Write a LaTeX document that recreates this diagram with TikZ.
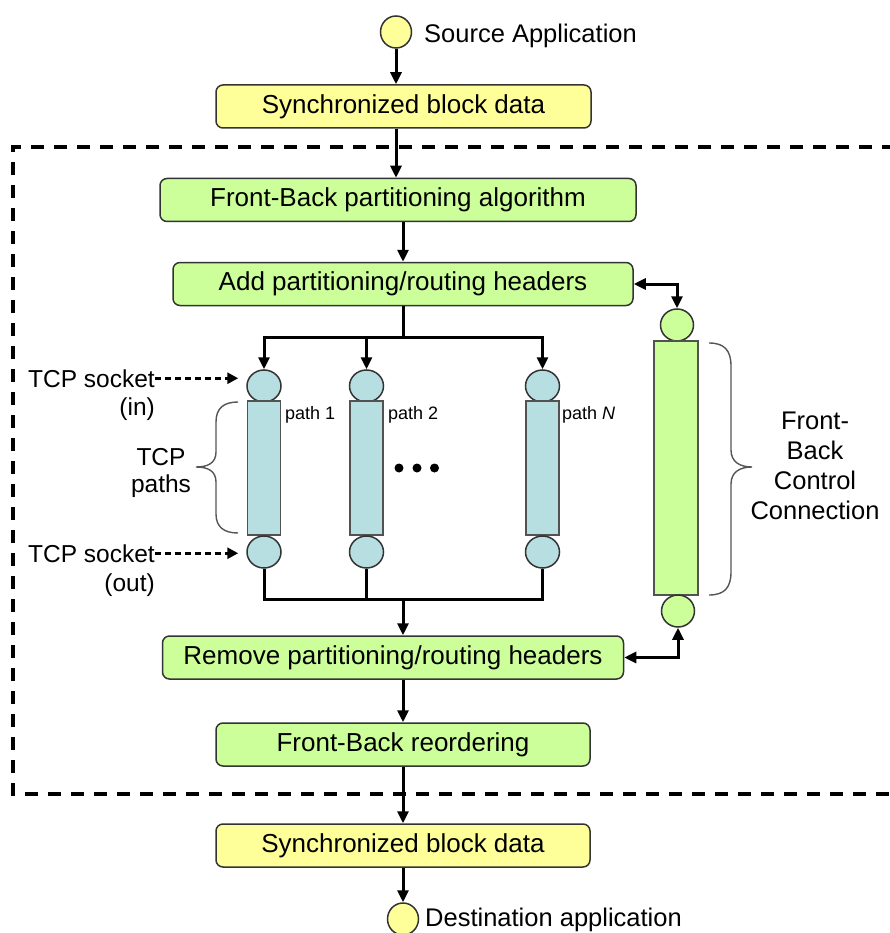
\documentclass[tikz,border=0pt]{standalone}
\usepackage{fontspec}
\setmainfont{Liberation Sans}
\usetikzlibrary{arrows.meta,shapes.geometric,calc}
\definecolor{boxyellow}{HTML}{FFFF99}
\definecolor{boxgreen}{HTML}{CCFF99}
\definecolor{tubeblue}{HTML}{B7DEE1}
\definecolor{edgegray}{HTML}{333333}
\definecolor{bracegray}{HTML}{555555}
\begin{document}
\begin{tikzpicture}[x=1pt,y=-1pt,
  stage/.style={draw=edgegray, line width=1.5pt, rounded corners=7pt,
    minimum height=43pt, inner sep=0pt, font=\fontsize{26}{30}\selectfont},
  ybox/.style={stage, fill=boxyellow},
  gbox/.style={stage, fill=boxgreen},
  endpt/.style={ellipse, draw=edgegray, line width=1.5pt, fill=boxyellow,
    minimum width=31pt, minimum height=32pt, inner sep=0pt},
  sock/.style={ellipse, draw=edgegray, line width=1.5pt, fill=tubeblue,
    minimum width=34pt, minimum height=32pt, inner sep=0pt},
  ctlsock/.style={ellipse, draw=edgegray, line width=1.5pt, fill=boxgreen,
    minimum width=33pt, minimum height=32pt, inner sep=0pt},
  tube/.style={rectangle, draw=edgegray!85, line width=1.3pt, fill=tubeblue,
    minimum width=33pt, minimum height=134pt, inner sep=0pt},
  lbl/.style={font=\fontsize{24.5}{27}\selectfont, inner sep=0pt},
  biglbl/.style={font=\fontsize{25.5}{30}\selectfont, inner sep=0pt},
  small/.style={font=\fontsize{18}{20}\selectfont, inner sep=0pt},
  wire/.style={line width=3pt},
  flow/.style={line width=3pt, -{Triangle[length=12pt,width=11pt]}},
  twoway/.style={line width=3pt, {Triangle[length=12pt,width=11pt]}-{Triangle[length=12pt,width=11pt]}},
  hint/.style={line width=2.8pt, dash pattern=on 6pt off 4pt, -{Triangle[length=11pt,width=11pt]}},
  bracket/.style={draw=bracegray, line width=1.4pt}
]
\useasboundingbox (0,0) rectangle (890,933);

% region boundary (runs off the right edge)
\draw[line width=3.8pt, dash pattern=on 13pt off 10pt] (895,147) -- (13,147) -- (13,794) -- (895,794);

% main pipeline
\node[endpt] (src) at (396,32) {};
\node[biglbl, anchor=base west] (srclbl) at (424,43) {Source Application};
\node[ybox, minimum width=375pt] (sync1) at (403.5,106.5) {Synchronized block data};
\node[gbox, minimum width=476pt] (fb) at (398,200) {Front-Back partitioning algorithm};
\node[gbox, minimum width=460pt] (add) at (403,284) {Add partitioning/routing headers};
\node[gbox, minimum width=461pt] (rem) at (393,657.5) {Remove partitioning/routing headers};
\node[gbox, minimum width=374pt] (reo) at (403,744.5) {Front-Back reordering};
\node[ybox, minimum width=374pt] (sync2) at (403,845.5) {Synchronized block data};
\node[endpt] (dst) at (403,919) {};
\node[biglbl, anchor=base west] (dstlbl) at (425,926) {Destination application};

% TCP paths
\node[sock] (in1) at (264,386) {};
\node[sock] (in2) at (366.5,386) {};
\node[sock] (inN) at (542.5,386) {};
\node[tube] (t1) at (264,468) {};
\node[tube] (t2) at (366.5,468) {};
\node[tube] (tN) at (542.5,468) {};
\node[sock] (out1) at (264,552) {};
\node[sock] (out2) at (366.5,552) {};
\node[sock] (outN) at (542.5,552) {};
\node[small, anchor=base west] (p1) at (285,419) {path 1};
\node[small, anchor=base west] (p2) at (388,419) {path 2};
\node[small, anchor=base west] (pN) at (562,419) {path \textit{N}};
\fill (399,468) circle (4.5pt) (417,468) circle (4.5pt) (434.5,468) circle (4.5pt);

% control connection
\node[ctlsock] (ctop) at (677,325) {};
\node[rectangle, draw=edgegray!85, line width=1.3pt, fill=boxgreen,
  minimum width=44pt, minimum height=254pt, inner sep=0pt] (ctube) at (676,468) {};
\node[ctlsock] (cbot) at (678,611) {};

% side labels
\node[lbl, anchor=base east] (sockin) at (155,387) {TCP socket};
\node[lbl, anchor=base east] (sockinb) at (155,415) {(in)};
\node[lbl, anchor=base east] (sockout) at (155,562) {TCP socket};
\node[lbl, anchor=base east] (sockoutb) at (155,591) {(out)};
\node[lbl, align=center] (paths) at (161,473) {TCP\\paths};
\node[biglbl, align=center] (fbcc) at (815,466) {Front-\\Back\\Control\\Connection};

% braces
\draw[bracket] (238,402) .. controls (224,402) and (216,408) .. (216,422)
  -- (216,452) .. controls (216,463) and (208,467) .. (196,467)
  .. controls (208,467) and (216,471) .. (216,482)
  -- (216,514) .. controls (216,527) and (224,533) .. (238,533);
\draw[bracket] (709,343) .. controls (724,343) and (731,350) .. (731,366)
  -- (731,450) .. controls (731,462) and (740,467) .. (752,467)
  .. controls (740,467) and (731,472) .. (731,484)
  -- (731,572) .. controls (731,588) and (724,595) .. (709,595);

% connectors
\coordinate (split) at (403,337);
\coordinate (merge) at (403,599);
\draw[flow] (src.south) -- (src.south |- sync1.north);
\draw[flow] (src.south |- sync1.south) -- (src.south |- fb.north);
\draw[flow] (add.north |- fb.south) -- (add.north);
\draw[wire] (add.south) -- (split);
\draw[flow] (split) -| (in1.north);
\draw[flow] (split) -| (inN.north);
\draw[flow] (in2.north |- split) -- (in2.north);
\draw[wire] (out1.south) |- (merge);
\draw[wire] (outN.south) |- (merge);
\draw[wire] (out2.south) -- (out2.south |- merge);
\draw[flow] (merge) -- (merge |- rem.north);
\draw[flow] (reo.north |- rem.south) -- (reo.north);
\draw[flow] (reo.south) -- (sync2.north);
\draw[flow] (sync2.south) -- (dst.north);
\draw[twoway] (add.east) -| (ctop.north);
\draw[twoway] (rem.east) -| (cbot.south);
\draw[hint, shorten >=8pt] (sockin.east) -- (sockin.east -| in1.west);
\draw[hint, shorten >=8pt] (sockout.east) -- (sockout.east -| out1.west);
\end{tikzpicture}
\end{document}
